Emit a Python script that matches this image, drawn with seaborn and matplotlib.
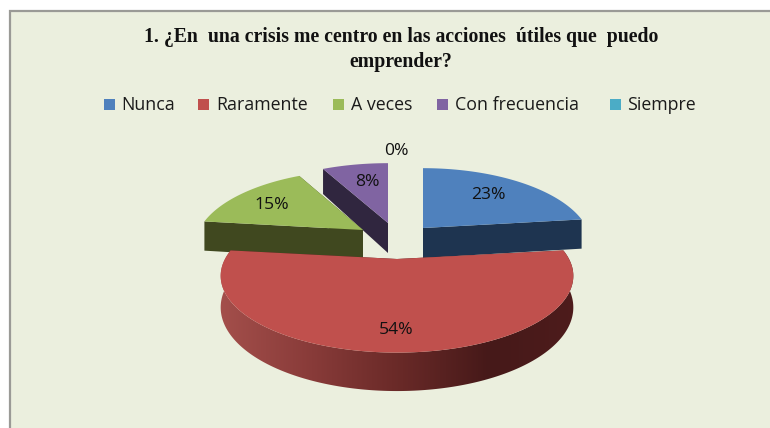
import numpy as np
import matplotlib
matplotlib.use('Agg')
import matplotlib.pyplot as plt
import seaborn as sns
from matplotlib.colors import LinearSegmentedColormap
from matplotlib.patches import Rectangle, Polygon

# data
categories = ['Nunca', 'Raramente', 'A veces', 'Con frecuencia', 'Siempre']
counts = [3, 7, 2, 1, 0]
percent_labels = ['23%', '54%', '15%', '8%', '0%']
title = '1. ¿En  una crisis me centro en las acciones  útiles que  puedo\nemprender?'

sns.set_theme(style='white')
plt.rcParams['font.family'] = ['Open Sans', 'DejaVu Sans']

colors = sns.color_palette(['#4F81BD', '#C0504D', '#9BBB59', '#8064A2', '#4BACC6'])
dark = ['#1E3450', '#4E1C1C', '#40481F', '#30263F', '#1E4A56']
bg = '#EBEFDE'

# slice geometry in px: apex x, apex y, width
apex = [(423, 228), (397, 259), (363, 230), (388, 223), (396, 225)]
widths = [164, 172, 164, 167, 160]
B = 73.0   # depth of the disc
K = 0.22   # perspective
H = 30.0   # wall height


def rim(i, theta):
    X, Y = np.sin(theta), np.cos(theta)
    d = 1 + K * Y
    return apex[i][0] + widths[i] * X / d, apex[i][1] - B * Y / d, H / d


fig = plt.figure(figsize=(7.7, 4.28), dpi=100, facecolor='white')
ax = fig.add_axes([0, 0, 1, 1])
ax.add_patch(Rectangle((10, 10.5), 770, 430, fc=bg, ec='#9a9a96', lw=1.6, zorder=0))

# slice angles from the values, clockwise from the top
fracs = np.array(counts) / sum(counts)
edges = np.concatenate([[0], np.cumsum(fracs)]) * 2 * np.pi

order = [3, 2, 0, 4, 1]
for i in order:
    if counts[i] == 0:
        continue
    t = np.linspace(edges[i], edges[i + 1], 200)
    x, y, h = rim(i, t)
    ax0, ay0 = apex[i]
    z = 2 + order.index(i)
    # flat cut faces
    for end in (0, -1):
        ax.fill([ax0, x[end], x[end], ax0], [ay0, y[end], y[end] + h[end], ay0 + H],
                color=dark[i], lw=0, zorder=z)
    # curved wall, gradient clipped to its outline
    if i == 1:
        shade = LinearSegmentedColormap.from_list('wall', ['#A5504C', '#8A3C3A', '#6A2A28', '#461919', '#4E1C1C'])
        im = ax.imshow(np.linspace(0, 1, 256).reshape(1, -1), cmap=shade, aspect='auto',
                       extent=(215, 580, 400, 240), zorder=z)
        wall = Polygon(np.c_[np.r_[x, x[::-1]], np.r_[y, (y + h)[::-1]]], closed=True,
                       transform=ax.transData, fc='none', ec='none')
        ax.add_patch(wall)
        im.set_clip_path(wall)
    ax.fill(np.r_[ax0, x], np.r_[ay0, y], color=colors[i], lw=0, zorder=z + 0.5)

ax.set_xlim(0, 770)
ax.set_ylim(428, 0)
ax.axis('off')

# percent labels
label_pos = [(488, 195), (396, 330), (272, 205), (367, 182), (396, 151)]
for lab, (lx, ly) in zip(percent_labels, label_pos):
    ax.text(lx, ly, lab, fontsize=12.6, color='#111111', ha='center', va='center', zorder=20)

# title
ax.text(401, 49.5, title, family='Liberation Serif', weight='bold', fontsize=14.2,
        color='#111111', ha='center', va='center', linespacing=1.36, zorder=20)

# legend
legend_sq = [104, 198, 333, 437, 610]
legend_tx = [121, 216, 351, 455, 627]
for name, col, sx, tx in zip(categories, colors, legend_sq, legend_tx):
    ax.add_patch(Rectangle((sx, 98.5), 11, 11, fc=col, ec='none', zorder=20))
    ax.text(tx, 104.5, name, fontsize=12.8, color='#1a1a1a', ha='left', va='center', zorder=20)

fig.savefig('out.png', dpi=100, facecolor='white')
